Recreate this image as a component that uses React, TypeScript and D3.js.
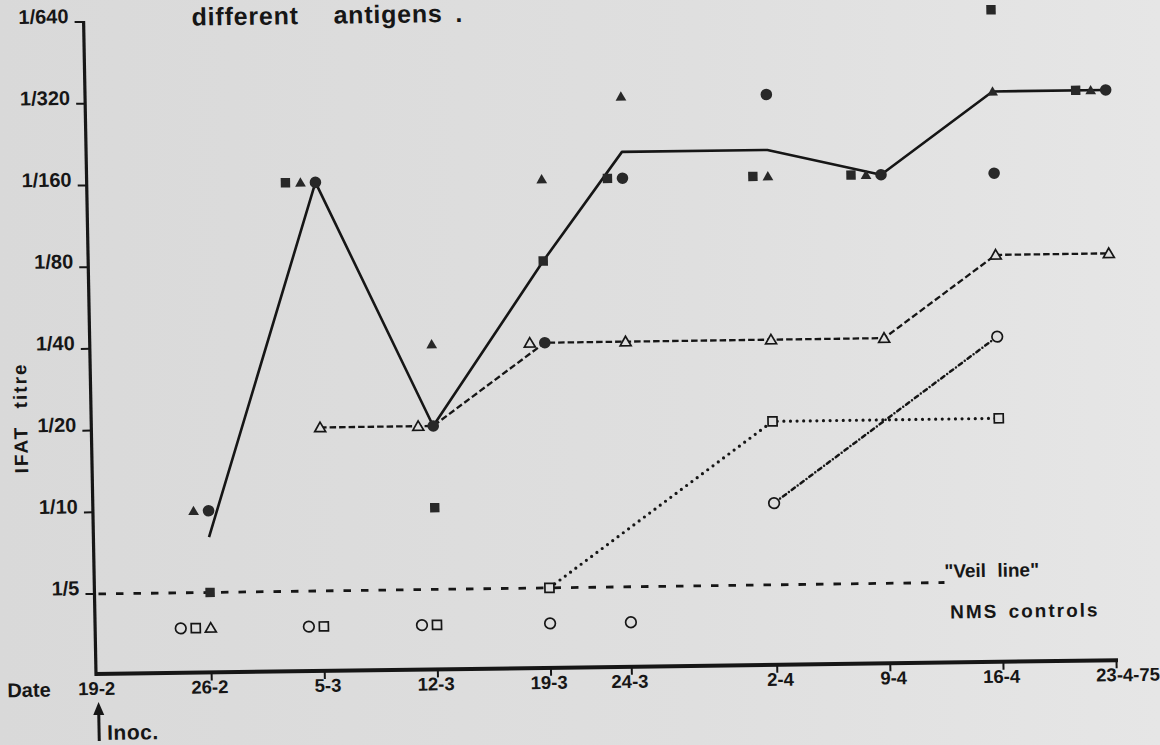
import React from 'react';
import * as d3 from 'd3';

const W = 1160;
const H = 745;

// ---------- data ----------
const axisDates = ['1975-02-19', '1975-02-26', '1975-03-05', '1975-03-12', '1975-03-19', '1975-03-24', '1975-04-02', '1975-04-09', '1975-04-16', '1975-04-23'];
const axisDateLabels = ['19-2', '26-2', '5-3', '12-3', '19-3', '24-3', '2-4', '9-4', '16-4', '23-4-75'];

const sampleDates = ['1975-02-26', '1975-03-05', '1975-03-12', '1975-03-19', '1975-03-24', '1975-04-02', '1975-04-09', '1975-04-16', '1975-04-23'];

const titreTicks = [640, 320, 160, 80, 40, 20, 10, 5];
const titreTickLabels = ['1/640', '1/320', '1/160', '1/80', '1/40', '1/20', '1/10', '1/5'];

// reciprocal titres; NEG = negative (below 1/5), shown on the "NMS controls" row
const NEG = 3.7;
const VEIL = 5;

const filledSquare = [5, 160, 10, 80, 160, 160, 160, 640, 320];
const filledTriangle = [10, 160, 40, 160, 320, 160, 160, 320, 320];
const filledCircle = [10, 160, 20, 40, 160, 320, 160, 160, 320];
const meanTitre = [8, 160, 20, 80, 200, 200, 160, 320, 320];
const openTriangle = [NEG, 20, 20, 40, 40, 40, 40, 80, 80];
const openSquare = [NEG, NEG, NEG, 5, null, 20, null, 20, null];
const openCircle = [NEG, NEG, NEG, NEG, NEG, 10, null, 40, null];

// ---------- style ----------
const BG = '#dedede';
const INK = '#161616';
const MARK = '#282828';
const FONT = "'Liberation Sans', Arial, Helvetica, sans-serif";
const GAP = 15;

type Kind = 'fSq' | 'fTri' | 'fCir' | 'oTri' | 'oSq' | 'oCir';
const series: Record<Kind, (number | null)[]> = {
  fSq: filledSquare,
  fTri: filledTriangle,
  fCir: filledCircle,
  oTri: openTriangle,
  oSq: openSquare,
  oCir: openCircle,
};
const mainOrder: Kind[] = ['fSq', 'fTri', 'oTri', 'fCir', 'oCir', 'oSq'];
const ctrlOrder: Kind[] = ['oCir', 'oSq', 'oTri'];

const parse = d3.utcParse('%Y-%m-%d');

export default function App() {
  const x = d3
    .scaleUtc()
    .domain([parse(axisDates[0]) as Date, parse(axisDates[axisDates.length - 1]) as Date])
    .range([98.5, 1116.5]);
  const y = d3.scaleLog().base(2).domain([5, 640]).range([594, 22]);

  const X0 = 96;
  const Y0 = 674;

  type Mark = { kind: Kind; x: number; y: number };
  const marks: Mark[] = [];
  sampleDates.forEach((ds, i) => {
    const bx = x(parse(ds) as Date);
    const main = mainOrder.filter((k) => series[k][i] != null && series[k][i] !== NEG);
    const groups = d3.group(main, (k) => series[k][i] as number);
    for (const [v, ks] of groups) {
      ks.forEach((k, j) => marks.push({ kind: k, x: bx - (ks.length - 1 - j) * GAP, y: y(v) }));
    }
    const ctrl = ctrlOrder.filter((k) => series[k][i] === NEG);
    ctrl.forEach((k, j) => marks.push({ kind: k, x: bx - (ctrl.length - 1 - j) * GAP, y: y(NEG) }));
  });

  const pts = (vals: (number | null)[]) =>
    sampleDates
      .map((d, i) => ({ d: parse(d) as Date, v: vals[i] }))
      .filter((p) => p.v != null && p.v !== NEG) as { d: Date; v: number }[];

  const line = d3
    .line<{ d: Date; v: number }>()
    .x((p) => x(p.d))
    .y((p) => y(p.v));

  const triPath = d3.symbol().type(d3.symbolTriangle).size(50)() as string;
  const triOpenPath = d3.symbol().type(d3.symbolTriangle).size(52)() as string;

  const renderMark = (m: Mark, i: number) => {
    switch (m.kind) {
      case 'fSq':
        return <rect key={i} x={m.x - 4.7} y={m.y - 4.7} width={9.4} height={9.4} fill={MARK} />;
      case 'fTri':
        return <path key={i} d={triPath} transform={`translate(${m.x},${m.y + 1})`} fill={MARK} />;
      case 'fCir':
        return <circle key={i} cx={m.x} cy={m.y} r={5.8} fill={MARK} />;
      case 'oTri':
        return (
          <path key={i} d={triOpenPath} transform={`translate(${m.x},${m.y + 1})`} fill={BG} stroke={INK} strokeWidth={1.7} />
        );
      case 'oSq':
        return <rect key={i} x={m.x - 4.5} y={m.y - 4.5} width={9} height={9} fill={BG} stroke={INK} strokeWidth={1.7} />;
      case 'oCir':
        return <circle key={i} cx={m.x} cy={m.y} r={5.3} fill={BG} stroke={INK} strokeWidth={1.7} />;
    }
  };

  const tickFont = 18.5;
  const digitW = 0.556 * tickFont;

  return (
    <svg
      width={W}
      height={H}
      viewBox={`0 0 ${W} ${H}`}
      style={{ position: 'absolute', left: 0, top: 0, display: 'block' }}
      fontFamily={FONT}
    >
      <defs>
        <linearGradient id="paper" x1="0" x2="1" y1="0" y2="0">
          <stop offset="0" stopColor="#d9d9d9" />
          <stop offset="0.6" stopColor="#dfdfdf" />
          <stop offset="1" stopColor="#e6e6e6" />
        </linearGradient>
      </defs>
      <rect x={0} y={0} width={W} height={H} fill="url(#paper)" />

      <g transform={`translate(${X0},${Y0}) matrix(1,-0.0135,0.019,1,0,0) translate(${-X0},${-Y0})`}>
        {/* title */}
        <text x={204} y={27} fontSize={25} fontWeight="bold" fill={INK} letterSpacing={0.8}>
          different
          <tspan dx={27}> antigens</tspan>
          <tspan dx={5}> .</tspan>
        </text>

        {/* y axis */}
        <line x1={X0} x2={X0} y1={21} y2={Y0 + 2} stroke={INK} strokeWidth={3.2} />
        {titreTicks.map((t, i) => (
          <g key={t}>
            <line x1={87} x2={X0} y1={y(t)} y2={y(t)} stroke={INK} strokeWidth={2} />
            <text x={81} y={y(t) + 1} textAnchor="end" fontSize={20} fontWeight="bold" fill={INK}>
              {titreTickLabels[i]}
            </text>
          </g>
        ))}
        <text
          transform={`translate(32,417) rotate(-90)`}
          textAnchor="middle"
          fontSize={19}
          fontWeight="bold"
          fill={INK}
          letterSpacing={2}
          wordSpacing={10}
        >
          IFAT titre
        </text>

        {/* x axis */}
        <line x1={X0 - 1} x2={1118} y1={Y0} y2={Y0} stroke={INK} strokeWidth={4} />
        {axisDates.map((ds, i) => {
          const tx = x(parse(ds) as Date);
          const lab = axisDateLabels[i];
          const pre = lab.indexOf('-');
          return (
            <g key={ds}>
              {i > 0 && <line x1={tx} x2={tx} y1={Y0} y2={Y0 + 8} stroke={INK} strokeWidth={2} />}
              <text x={tx - pre * digitW} y={695} fontSize={tickFont} fontWeight="bold" fill={INK}>
                {lab}
              </text>
            </g>
          );
        })}
        <text x={7} y={696} fontSize={20} fontWeight="bold" fill={INK}>
          Date
        </text>

        {/* inoculation arrow */}
        <line x1={98} x2={98} y1={741} y2={711} stroke={INK} strokeWidth={3} />
        <path d="M98,702 L92.5,715 L103.5,715 Z" fill={INK} />
        <text x={106} y={740} fontSize={21} fontWeight="bold" fill={INK} letterSpacing={0.5}>
          Inoc.
        </text>

        {/* veil line */}
        <line
          x1={100}
          x2={946}
          y1={y(VEIL)}
          y2={y(VEIL)}
          stroke={INK}
          strokeWidth={2.8}
          strokeDasharray="7.5 10"
        />
        <text x={946} y={589} fontSize={19} fontWeight="bold" fill={INK} wordSpacing={6}>
          "Veil line"
        </text>
        <text x={951} y={630} fontSize={19} fontWeight="bold" fill={INK} letterSpacing={2} wordSpacing={3}>
          NMS controls
        </text>

        {/* lines */}
        <path
          d={line(meanTitre.map((v, i) => ({ d: parse(sampleDates[i]) as Date, v }))) as string}
          fill="none"
          stroke={INK}
          strokeWidth={2.6}
          strokeLinejoin="round"
        />
        <path
          d={line(pts(openTriangle)) as string}
          fill="none"
          stroke={INK}
          strokeWidth={2.3}
          strokeDasharray="6.5 3"
        />
        <path
          d={line(pts(openSquare)) as string}
          fill="none"
          stroke={INK}
          strokeWidth={3.2}
          strokeDasharray="0 6.6"
          strokeLinecap="round"
        />
        <path
          d={line(pts(openCircle)) as string}
          fill="none"
          stroke={INK}
          strokeWidth={2.5}
          strokeDasharray="4 3.5 0 3.5"
          strokeLinecap="round"
        />

        {/* markers */}
        {marks.map(renderMark)}
      </g>
    </svg>
  );
}
